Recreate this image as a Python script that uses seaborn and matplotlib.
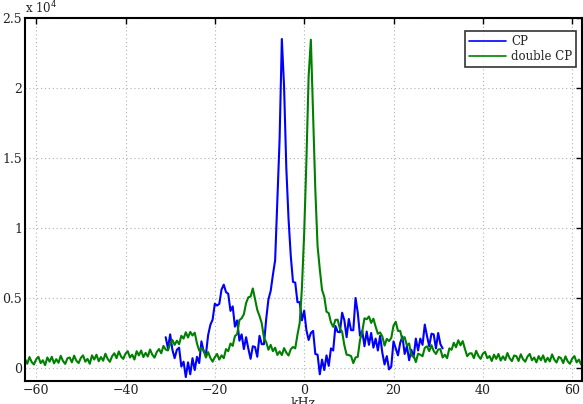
import numpy as np
import pandas as pd
import seaborn as sns
import matplotlib
matplotlib.use('Agg')
import matplotlib.pyplot as plt
from matplotlib.ticker import FuncFormatter

# double CP spectrum, 0.5 kHz steps from -62.5 to 62.5 kHz
double_cp_khz = np.arange(-62.5, 62.75, 0.5)
double_cp = [
    650, 300, 780, 420, 250, 620, 800, 350, 550, 200,
    750, 450, 800, 330, 630, 370, 870, 500, 290, 690,
    750, 400, 880, 520, 350, 720, 900, 450, 650, 300,
    900, 600, 950, 480, 780, 520, 1020, 650, 440, 840,
    1050, 700, 1180, 820, 650, 1020, 1200, 750, 950, 600,
    1200, 900, 1250, 780, 1080, 820, 1320, 950, 740, 1140,
    1350, 1050, 1580, 1320, 1250, 1720, 2000, 1650, 1950, 1700,
    2300, 2100, 2550, 2180, 2580, 2320, 2520, 1750, 1240, 1440,
    1250, 750, 1130, 720, 450, 770, 1000, 600, 900, 700,
    1350, 1200, 1750, 1580, 2280, 2420, 3420, 3550, 3840, 4640,
    5050, 5100, 5680, 4920, 4150, 3720, 3200, 2150, 1850, 1300,
    1650, 1200, 1450, 930, 1180, 920, 1420, 1100, 890, 1340,
    1500, 1400, 2380, 3220, 5750, 9620, 14800, 20850, 23450, 18200,
    12700, 8700, 7050, 5580, 5080, 4020, 3920, 3250, 2940, 3440,
    3450, 2800, 2580, 1620, 950, 920, 850, 350, 750, 800,
    2000, 2600, 3550, 3480, 3680, 3220, 3520, 2950, 2440, 2540,
    2250, 1600, 2080, 1920, 2150, 3020, 3300, 2650, 2650, 2000,
    2200, 1600, 1750, 880, 880, 420, 1020, 950, 840, 1440,
    1550, 1200, 1630, 1220, 1000, 1320, 1350, 750, 950, 700,
    1400, 1300, 1800, 1480, 1980, 1620, 1920, 1350, 840, 1040,
    1050, 700, 1230, 870, 650, 1020, 1150, 700, 850, 500,
    950, 650, 1000, 530, 830, 570, 1070, 700, 490, 890,
    850, 500, 980, 620, 450, 820, 1000, 550, 750, 400,
    850, 550, 900, 430, 730, 470, 970, 600, 390, 790,
    700, 350, 830, 470, 300, 670, 850, 400, 600, 250,
    500,
]

# CP spectrum, 0.5 kHz steps from -31 to 31 kHz
cp_khz = np.arange(-31.0, 31.25, 0.5)
cp = [
    2200, 1400, 2400, 1300, 700, 1300, 1450, 100, 450, -650,
    400, -450, 700, -150, 800, 350, 1900, 1180, 950, 2350,
    3080, 3450, 4590, 4460, 4580, 5610, 5950, 5420, 5300, 4080,
    4400, 2950, 3400, 1950, 2400, 1350, 2200, 1380, 650, 1550,
    1500, 800, 2300, 1700, 1700, 3500, 4900, 5500, 6650, 7700,
    12000, 16350, 23500, 20100, 14300, 10650, 8000, 6150, 6100, 4700,
    4700, 3400, 4100, 2700, 2000, 2500, 2650, 1000, 950, -450,
    600, -150, 900, 150, 1400, 1250, 3000, 2580, 2550, 3950,
    3400, 2200, 3500, 2700, 2700, 5000, 3950, 2300, 2650, 1550,
    2600, 1650, 2500, 1450, 2100, 1250, 2300, 1080, 250, 850,
    -100, 100, 1900, 1400, 900, 1800, 2250, 1000, 1550, 550,
    1300, 750, 2100, 1250, 2100, 1650, 3100, 2280, 1550, 2450,
    2400, 1400, 2500, 1700, 1400,
]

x_ticks = [-60, -40, -20, 0, 20, 40, 60]
y_ticks = [0, 5000, 10000, 15000, 20000, 25000]


def main():
    sns.set_theme(style='white')
    plt.rcParams['font.family'] = ['DejaVu Serif']

    fig = plt.figure(figsize=(5.83, 4.04), dpi=100)
    ax = fig.add_axes([25 / 583, 23 / 404, 557 / 583, 363 / 404])

    cp_df = pd.DataFrame({'kHz': cp_khz, 'signal': cp})
    dcp_df = pd.DataFrame({'kHz': double_cp_khz, 'signal': double_cp})
    sns.lineplot(data=cp_df, x='kHz', y='signal', color='#0000ff', lw=1.5,
                 estimator=None, label='CP', ax=ax)
    sns.lineplot(data=dcp_df, x='kHz', y='signal', color='#008000', lw=1.5,
                 estimator=None, label='double CP', ax=ax)

    ax.set_xlim(-62.5, 62.2)
    ax.set_ylim(-930, 25000)
    ax.set_xticks(x_ticks)
    ax.set_yticks(y_ticks)
    ax.yaxis.set_major_formatter(FuncFormatter(lambda v, p: f'{v / 1e4:g}'))
    ax.xaxis.set_major_formatter(FuncFormatter(lambda v, p: f'\u2212{-v:g}' if v < 0 else f'{v:g}'))
    ax.set_xlabel('kHz', fontsize=9, labelpad=0)
    ax.set_ylabel('')
    ax.grid(True, color='#b0b0b0', linestyle=(0, (1, 2.5)), linewidth=0.8)
    ax.tick_params(direction='in', top=True, right=True, length=4, width=1,
                   labelsize=9, pad=2, color='black', labelcolor='#222222')
    for s in ax.spines.values():
        s.set_color('black')
        s.set_linewidth(1.5)
    ax.text(0.0, 1.005, r'x 10$^4$', transform=ax.transAxes, ha='left',
            va='bottom', fontsize=8.5, color='#222222')

    leg = ax.legend(loc='upper right', bbox_to_anchor=(0.99, 0.965), fontsize=8.5,
                    frameon=True, fancybox=False, handlelength=3.2,
                    borderpad=0.35, labelspacing=0.2, handletextpad=0.4,
                    borderaxespad=0)
    leg.get_frame().set_edgecolor('black')
    leg.get_frame().set_linewidth(1.2)
    for line in leg.get_lines():
        line.set_linewidth(1.2)

    fig.savefig('out.png', dpi=100)


if __name__ == '__main__':
    main()
